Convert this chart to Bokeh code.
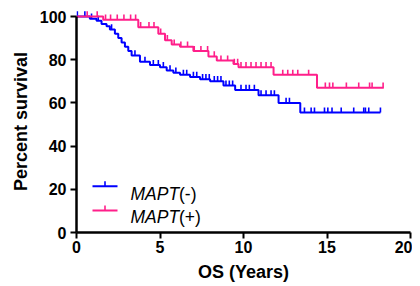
import numpy as np
from bokeh.plotting import figure
from bokeh.models import Range1d, Label, Arrow, FixedTicker
from bokeh.embed import file_html
from bokeh.resources import INLINE

# ---- data ----
neg_label = "MAPT"
neg_suffix = "(-)"
neg_t = [0, 0.8, 1.2, 1.5, 1.8, 2.0, 2.3, 2.5, 2.7, 2.9, 3.1, 3.3, 3.8, 4.4, 5.0, 5.4, 5.8, 6.2, 6.8, 7.4, 8.0, 8.8, 9.5, 10.9, 12.1, 13.4]
neg_s = [100, 99, 98, 96.5, 95.5, 94, 92, 90, 88, 86, 84, 82, 79, 77.5, 76.5, 75, 74, 73, 72, 71, 70, 68, 66, 63.5, 60, 55.5]
neg_end = 18.2
neg_cens = [0.05, 0.5, 0.9, 1.3, 2.1, 3.5, 4.1, 4.6, 4.9, 5.2, 5.6, 5.95, 6.4, 6.6, 7.0, 7.2, 7.55,
            7.75, 7.95, 8.25, 8.45, 8.65, 8.95, 9.15, 9.35, 9.85, 10.15, 10.35, 10.65, 11.05, 11.35,
            11.65, 11.85, 12.55, 12.75, 13.65, 14.05, 14.25, 14.85, 15.05, 15.3, 15.85, 16.6, 17.2,
            17.3, 17.5, 18.2]

pos_label = "MAPT"
pos_suffix = "(+)"
pos_t = [0, 1.6, 3.7, 4.9, 5.3, 5.7, 6.2, 7.0, 7.9, 8.4, 9.4, 9.7, 11.8, 14.4]
pos_s = [100, 98.5, 95, 92, 89, 87, 86, 84, 81.5, 79.6, 78, 76.5, 73, 67]
pos_end = 18.4
pos_cens = [0.64, 1.24, 1.74, 2.04, 2.44, 2.84, 3.24, 3.54, 3.84, 4.34, 4.64, 5.04, 5.44, 5.85,
            6.25, 6.65, 7.05, 7.45, 7.85, 8.25, 8.65, 9.05, 9.45, 9.65, 9.85, 10.15, 10.45, 10.75,
            11.05, 11.35, 11.65, 12.35, 12.65, 12.95, 13.25, 13.9, 14.9, 15.15, 15.35, 16.16, 16.9,
            17.55, 17.7, 18.36]

x_ticks = [0, 5, 10, 15, 20]
y_ticks = [0, 20, 40, 60, 80, 100]

BLUE = "#0000FF"
PINK = "#FF1F8A"
FONT = "Liberation Sans"
TICK_H = 2.4  # censor tick height in percent units

W, H = 412, 278
p = figure(width=W, height=H, output_backend="svg", toolbar_location=None,
           x_range=Range1d(0, 20), y_range=Range1d(0, 102.78),
           min_border_left=76, min_border_right=2, min_border_top=10, min_border_bottom=46)
p.frame_height = 222
p.frame_width = 334
p.outline_line_color = None
p.xgrid.visible = False
p.ygrid.visible = False
p.background_fill_color = "white"
p.border_fill_color = "white"


def draw(t, s, end, cens, color):
    xs = list(t) + [end]
    ys = list(s) + [s[-1]]
    p.step(xs, ys, mode="after", line_color=color, line_width=2)
    ta = np.array(t)
    sa = np.array(s)
    c = np.array(cens)
    cy = sa[np.searchsorted(ta, c, side="right") - 1]
    p.segment(x0=c, y0=cy, x1=c, y1=cy + TICK_H, line_color=color, line_width=1.6)


draw(neg_t, neg_s, neg_end, neg_cens, BLUE)
draw(pos_t, pos_s, pos_end, pos_cens, PINK)

for ax, ticks in ((p.xaxis[0], x_ticks), (p.yaxis[0], y_ticks)):
    ax.ticker = FixedTicker(ticks=ticks)
    ax.minor_tick_line_color = None
    ax.axis_line_width = 2.5
    ax.axis_line_color = "black"
    ax.major_tick_line_width = 2
    ax.major_tick_out = 6
    ax.major_tick_in = 0
    ax.major_label_text_font = FONT
    ax.major_label_text_font_style = "bold"
    ax.major_label_text_font_size = "16px"
    ax.major_label_text_color = "black"
    ax.axis_label_text_font = FONT
    ax.axis_label_text_font_style = "bold"
    ax.axis_label_text_font_size = "18px"
    ax.axis_label_text_color = "black"

p.xaxis[0].bounds = (0, 20)
p.yaxis[0].bounds = (0, 100)
p.xaxis[0].axis_label = "OS (Years)"
p.yaxis[0].axis_label = "Percent survival"
p.xaxis[0].major_label_standoff = 2
p.yaxis[0].major_label_standoff = 4
p.xaxis[0].axis_label_standoff = 6
p.yaxis[0].axis_label_standoff = 6

# ---- legend (screen units, relative to frame bottom-left) ----
def legend_entry(y_line, y_text, color, name, suffix):
    p.add_layout(Arrow(x_start=16, y_start=y_line, x_end=41, y_end=y_line,
                       start_units="screen", end_units="screen", end=None,
                       line_color=color, line_width=2))
    p.add_layout(Arrow(x_start=28.5, y_start=y_line, x_end=28.5, y_end=y_line + 5,
                       start_units="screen", end_units="screen", end=None,
                       line_color=color, line_width=1.6))
    p.add_layout(Label(x=54, y=y_text, x_units="screen", y_units="screen", text=name,
                       text_font=FONT, text_font_style="italic", text_font_size="17.5px",
                       text_baseline="alphabetic", text_color="black"))
    p.add_layout(Label(x=102.5, y=y_text, x_units="screen", y_units="screen", text=suffix,
                       text_font=FONT, text_font_size="17.5px",
                       text_baseline="alphabetic", text_color="black"))

legend_entry(46.3, 39.0, BLUE, neg_label, neg_suffix)
legend_entry(22.0, 15.3, PINK, pos_label, pos_suffix)

open("out.html", "w").write(file_html(p, INLINE))
